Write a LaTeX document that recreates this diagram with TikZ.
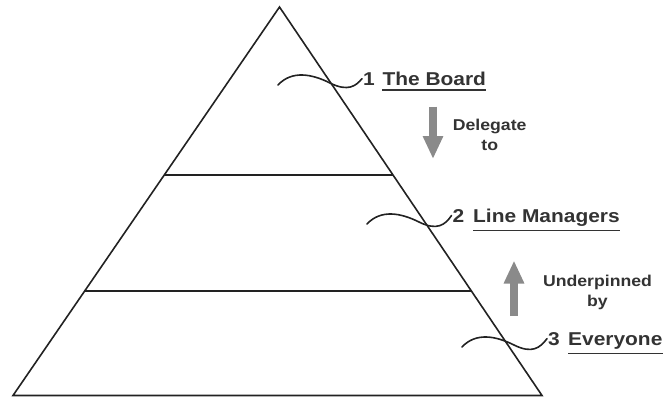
\documentclass[tikz,border=0pt]{standalone}
\usepackage{fontspec}
\usepackage{graphicx}
\setmainfont{Liberation Sans}
\usetikzlibrary{arrows.meta,calc}

\definecolor{edge}{HTML}{222222}
\definecolor{labeltext}{HTML}{333333}
\definecolor{arrowgray}{HTML}{8A8A8A}

% labels are set slightly wide
\newcommand{\widetext}[1]{\scalebox{1.125}[1]{#1}}

\begin{document}
\begin{tikzpicture}[x=1pt,y=-1pt,
  tierline/.style={draw=edge, line width=1.6pt, line join=miter},
  wave/.style={draw=edge, line width=1.6pt, line cap=round},
  tiername/.style={inner sep=0pt, anchor=base west, text=labeltext,
    font=\bfseries\fontsize{18.6}{20}\selectfont},
  note/.style={inner sep=0pt, anchor=base, text=labeltext,
    font=\bfseries\fontsize{15.7}{20}\selectfont},
  uline/.style={draw=labeltext, line width=1.5pt},
  flow/.style={draw=arrowgray, line width=7.5pt,
    -{Triangle[width=19pt,length=23pt]}}]

\useasboundingbox (0,0) rectangle (664,397);

% pyramid outline
\coordinate (apex) at (279.5,7);
\coordinate (bl) at (13,395.5);
\coordinate (br) at (542,395.5);
\draw[tierline] (apex) -- (bl) -- (br) -- cycle;

% tier dividers
\coordinate (l1) at ($(apex)!0.4324!(bl)$);
\coordinate (r1) at ($(apex)!0.4324!(br)$);
\coordinate (l2) at ($(apex)!0.731!(bl)$);
\coordinate (r2) at ($(apex)!0.731!(br)$);
\draw[tierline] (l1) -- (r1);
\draw[tierline] (l2) -- (r2);

% tier labels
\node[tiername] (n1) at (363,85) {\widetext{1}};
\node[tiername] (t1) at (382.3,85) {\widetext{The Board}};
\node[tiername] (n2) at (452.5,222) {\widetext{2}};
\node[tiername] (t2) at (473,222) {\widetext{Line Managers}};
\node[tiername] (n3) at (548,345) {\widetext{3}};
\node[tiername] (t3) at (568,345) {\widetext{Everyone}};

\foreach \t in {t1,t2,t3}
  \draw[uline] ([yshift=-4.5pt]\t.south west) -- ([yshift=-4.5pt]\t.south east);

% wavy leaders from each tier to its label
\foreach \dx/\dy/\n in {0/0/n1, 89/139/n2, 184/262/n3}
  \draw[wave] (278+\dx,85+\dy)
     .. controls (292+\dx,70+\dy) and (312+\dx,74+\dy) .. (330+\dx,83+\dy)
     .. controls (348+\dx,92+\dy) and (356+\dx,86+\dy) .. ([xshift=-1pt]\n.west);

% delegation arrow
\coordinate (dtop) at (433,106.5);
\coordinate (dtip) at (433,159);
\draw[flow] (dtop) -- (dtip);
\node[note] (d1) at (489.7,130.7) {\widetext{Delegate}};
\node[note] (d2) at (489.7,150.7) {\widetext{to}};

% underpinning arrow
\coordinate (ubot) at (514,316);
\coordinate (utip) at (514,260.5);
\draw[flow] (ubot) -- (utip);
\node[note] (u1) at (597.5,286.7) {\widetext{Underpinned}};
\node[note] (u2) at (597.5,306.7) {\widetext{by}};

\end{tikzpicture}
\end{document}
